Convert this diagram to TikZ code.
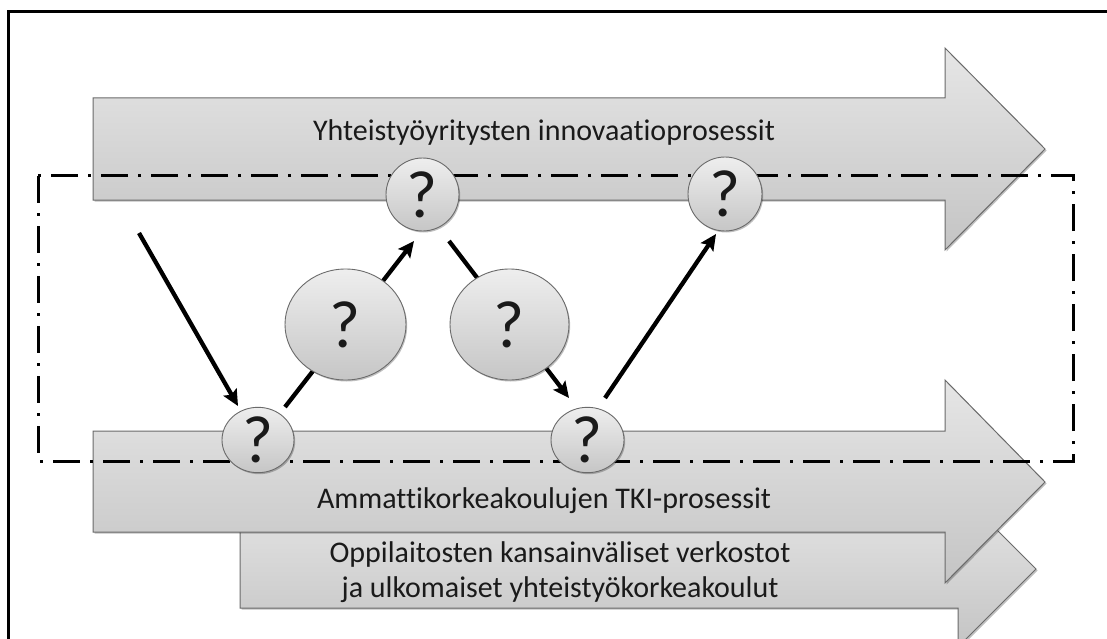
\documentclass[tikz,border=0pt]{standalone}
\usepackage{fontspec}
\setmainfont{Carlito}[Ligatures=NoCommon]
\usetikzlibrary{arrows.meta,shadows,shapes.geometric}
\definecolor{edgegray}{HTML}{6A6A6A}
\definecolor{flowtop}{HTML}{E6E6E6}
\definecolor{flowbot}{HTML}{C4C4C4}
\definecolor{balltop}{HTML}{EEEEEE}
\definecolor{ballbot}{HTML}{C6C6C6}
\definecolor{ink}{HTML}{1A1A1A}
\begin{document}
\begin{tikzpicture}[x=1pt,y=-1pt,
  flow/.style={draw=edgegray, line width=1pt, top color=flowtop, bottom color=flowbot,
    drop shadow={shadow xshift=1.5pt, shadow yshift=-1.5pt, opacity=0.25, fill=black}},
  lbl/.style={text=ink, font=\fontsize{30}{35}\selectfont, inner sep=0pt, anchor=base},
  ball/.style={ellipse, draw=edgegray, line width=0.9pt, top color=balltop, bottom color=ballbot,
    inner sep=0pt, text=ink, font=\fontsize{67}{70}\selectfont,
    drop shadow={shadow xshift=1.2pt, shadow yshift=-1.5pt, opacity=0.25, fill=black}},
  link/.style={line width=4.3pt, -{Stealth[length=16pt, width=15pt, inset=3pt]}},
  zone/.style={line width=3pt, dash pattern=on 27pt off 10pt on 3pt off 10pt}]
\useasboundingbox (0,0) rectangle (1107,639);
\fill[white] (0,0) rectangle (1107,639);
\clip (0,0) rectangle (1107,639);

% outer frame (open to the right and bottom)
\draw[line width=3pt] (1120,12) -- (8,12) -- (8,650);

% process flows, back to front
\path[flow] (240,530) -- (958,530) -- (958,491) -- (1036,569) -- (958,647) -- (958,608) -- (240,608) -- cycle;
\path[flow] (93,431) -- (945,431) -- (945,380) -- (1045,482) -- (945,583) -- (945,532) -- (93,532) -- cycle;
\path[flow] (93,98) -- (945,98) -- (945,48) -- (1045,149) -- (945,250) -- (945,200) -- (93,200) -- cycle;

\node[lbl] (tyri) at (544,141) {Yhteistyöyritysten innovaatioprosessit};
\node[lbl] (tamk) at (544,508) {Ammattikorkeakoulujen TKI-prosessit};
\node[lbl] (tverk1) at (560,562) {Oppilaitosten kansainväliset verkostot};
\node[lbl] (tverk2) at (560,597) {ja ulkomaiset yhteistyökorkeakoulut};

% collaboration zone
\draw[zone] (38,176) rectangle (1073,461);

% connector end points
\coordinate (s1) at (139,233);
\coordinate (e1) at (238,406);
\coordinate (s2) at (285,407);
\coordinate (e2) at (414,241);
\coordinate (s3) at (449,241);
\coordinate (e3) at (569,398);
\coordinate (s4) at (605,398);
\coordinate (e4) at (716,234);

\draw[link] (s1) -- (e1);
\draw[link] (s2) -- (e2);
\draw[link] (s3) -- (e3);
\draw[link] (s4) -- (e4);

% large question balls
\node[ball, minimum width=121pt, minimum height=111pt] (big1) at (345.5,324.5) {?};
\node[ball, minimum width=119pt, minimum height=111pt] (big2) at (509.5,324.5) {?};

% small question balls on the flows
\node[ball, minimum width=73pt, minimum height=73pt] (qt1) at (422.5,194.5) {?};
\node[ball, minimum width=74pt, minimum height=74pt] (qt2) at (725,194) {?};
\node[ball, minimum width=72pt, minimum height=65pt] (qb1) at (258,440) {?};
\node[ball, minimum width=73pt, minimum height=65pt] (qb2) at (587.5,440) {?};
\end{tikzpicture}
\end{document}
